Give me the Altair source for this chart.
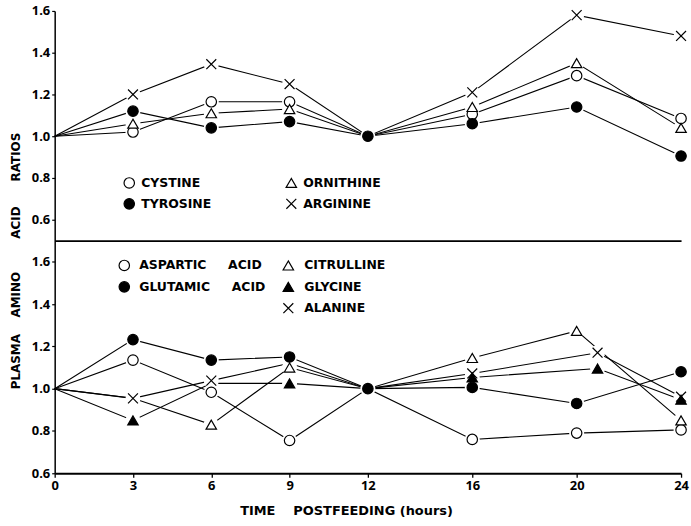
import altair as alt
import pandas as pd

# ---------------- data ----------------
HOURS = [0, 3, 6, 9, 12, 16, 20, 24]
HOURS_LATE = [0, 3, 6, 9, 12, 16, 20.8, 24]   # alanine / glycine last samples

# upper panel
CYSTINE   = [1.00, 1.02, 1.165, 1.165, 1.00, 1.105, 1.29, 1.085]
TYROSINE  = [1.00, 1.12, 1.04, 1.07, 1.00, 1.06, 1.14, 0.905]
ORNITHINE = [1.00, 1.06, 1.11, 1.13, 1.00, 1.14, 1.35, 1.04]
ARGININE  = [1.00, 1.20, 1.345, 1.25, 1.00, 1.21, 1.58, 1.48]

# lower panel
ASPARTIC   = [1.00, 1.135, 0.983, 0.755, 1.00, 0.76, 0.79, 0.805]
GLUTAMIC   = [1.00, 1.232, 1.135, 1.15, 1.00, 1.006, 0.93, 1.08]
CITRULLINE = [1.00, 0.955, 0.83, 1.10, 1.00, 1.145, 1.273, 0.85]
GLYCINE    = [1.00, 0.85, 1.025, 1.025, 1.00, 1.053, 1.095, 0.948]
ALANINE    = [1.00, 0.954, 1.038, 1.12, 1.00, 1.072, 1.17, 0.962]

NB = "\u00a0"
ASP = "ASPARTIC" + NB * 5 + "ACID"
GLU = "GLUTAMIC" + NB * 5 + "ACID"

TOP_NAMES = ["CYSTINE", "TYROSINE", "ORNITHINE", "ARGININE"]
TOP_VALUES = [CYSTINE, TYROSINE, ORNITHINE, ARGININE]
TOP_HOURS = [HOURS, HOURS, HOURS, HOURS]

BOT_NAMES = [ASP, GLU, "CITRULLINE", "GLYCINE", "ALANINE"]
BOT_VALUES = [ASPARTIC, GLUTAMIC, CITRULLINE, GLYCINE, ALANINE]
BOT_HOURS = [HOURS, HOURS, HOURS, HOURS_LATE, HOURS_LATE]

# legend slots (column, row) for each series
TOP_SLOTS = [(0, 0), (0, 1), (1, 0), (1, 1)]
BOT_SLOTS = [(0, 0), (0, 1), (1, 0), (1, 1), (1, 2)]

# points whose symbol is hidden under another symbol in the original
UNMARKED = {("CITRULLINE", 3), ("GLYCINE", 6), ("ALANINE", 9)}

Y_TICKS = [0.6, 0.8, 1.0, 1.2, 1.4, 1.6]
X_TITLE = "TIME" + NB * 4 + "POSTFEEDING (hours)"
Y_TITLE = "PLASMA" + NB * 4 + "AMINO" + NB * 8 + "ACID" + NB * 6 + "RATIOS"

# ---------------- styles / layout ----------------
X_PATH = "M-0.95,-0.95L0.95,0.95M-0.95,0.95L0.95,-0.95"
STYLE = {
    "CYSTINE": ("circle", "white"),
    "TYROSINE": ("circle", "black"),
    "ORNITHINE": ("triangle-up", "white"),
    "ARGININE": (X_PATH, "white"),
    ASP: ("circle", "white"),
    GLU: ("circle", "black"),
    "CITRULLINE": ("triangle-up", "white"),
    "GLYCINE": ("triangle-up", "black"),
    "ALANINE": (X_PATH, "white"),
}
NUM_FONT = "Open Sans"
TXT_FONT = "DejaVu Sans"
W = 630
TOP_H, BOT_H = 231, 234
MSIZE = 110
# legend geometry in panel pixels: symbol x per column, text x per column, first row y, row step
TOP_LEG = dict(sym_x=[75, 238], txt_x=[87, 250], y0=173, dy=21)
BOT_LEG = dict(sym_x=[70, 235], txt_x=[85, 251], y0=25, dy=21.5)


def is_marked(name, h):
    if h == 0:
        return False
    if h == 12:
        return STYLE[name] == ("circle", "black")
    return (name, h) not in UNMARKED


def frame(names, values, hours):
    rows = []
    for n, vals, hrs in zip(names, values, hours):
        for h, v in zip(hrs, vals):
            rows.append({"series": n, "hour": h, "value": v, "marked": is_marked(n, h)})
    return pd.DataFrame(rows)


def legend_frame(names, slots, geo):
    rows = []
    for n, (c, r) in zip(names, slots):
        rows.append({"series": n, "sx": geo["sym_x"][c], "tx": geo["txt_x"][c],
                     "ly": geo["y0"] + r * geo["dy"]})
    return pd.DataFrame(rows)


def panel(df, names, ydomain, height, leg_df, bottom):
    if bottom:
        xaxis = alt.Axis(values=HOURS, format="d", labelFlush=False,
                         labelFont=NUM_FONT, labelFontSize=13, labelFontWeight="bold",
                         labelColor="black", labelPadding=2, tickSize=4, tickColor="black",
                         tickWidth=1.3, domainColor="black", domainWidth=1.8, grid=False,
                         title=X_TITLE, titleFont=TXT_FONT, titleFontSize=13,
                         titleFontWeight="bold", titleColor="black", titlePadding=12,
                         titleX=293)
    else:
        xaxis = alt.Axis(labels=False, ticks=False, domainColor="black",
                         domainWidth=1.6, grid=False, title=None)
    yaxis = alt.Axis(values=Y_TICKS, format=".1f", labelFont=NUM_FONT, labelFontSize=13,
                     labelFontWeight="bold", labelColor="black", labelPadding=2,
                     tickSize=3, tickColor="black", tickWidth=1.2, domainColor="black",
                     domainWidth=1.5, grid=False, title=None, minExtent=30, maxExtent=30)
    x = alt.X("hour:Q", scale=alt.Scale(domain=[0, 24], nice=False), axis=xaxis)
    y = alt.Y("value:Q", scale=alt.Scale(domain=ydomain, nice=False, zero=False), axis=yaxis)
    shape = alt.Shape("series:N", scale=alt.Scale(domain=names, range=[STYLE[n][0] for n in names]), legend=None)
    fill = alt.Color("series:N", scale=alt.Scale(domain=names, range=[STYLE[n][1] for n in names]), legend=None)

    base = alt.Chart(df)
    lines = base.mark_line(color="black", strokeWidth=1.1).encode(x=x, y=y, detail="series:N")
    halos = base.transform_filter("datum.marked").mark_point(
        shape="circle", filled=True, color="white", opacity=1, size=230).encode(x=x, y=y)
    pts = base.transform_filter("datum.marked").mark_point(
        filled=True, stroke="black", strokeWidth=1.2, opacity=1, size=MSIZE
    ).encode(x=x, y=y, shape=shape, color=fill)

    leg = alt.Chart(leg_df)
    leg_sym = leg.mark_point(filled=True, stroke="black", strokeWidth=1.2, opacity=1, size=MSIZE).encode(
        x=alt.X("sx:Q", scale=None, axis=None), y=alt.Y("ly:Q", scale=None, axis=None),
        shape=shape, color=fill)
    leg_txt = leg.mark_text(align="left", baseline="middle", font=TXT_FONT, fontSize=12.5,
                            fontWeight="bold", color="black").encode(
        x=alt.X("tx:Q", scale=None, axis=None), y=alt.Y("ly:Q", scale=None, axis=None),
        text="series:N")
    return alt.layer(lines, halos, pts, leg_sym, leg_txt).properties(width=W, height=height)


top = panel(frame(TOP_NAMES, TOP_VALUES, TOP_HOURS), TOP_NAMES, [0.5, 1.6], TOP_H,
            legend_frame(TOP_NAMES, TOP_SLOTS, TOP_LEG), bottom=False)
bot = panel(frame(BOT_NAMES, BOT_VALUES, BOT_HOURS), BOT_NAMES, [0.6, 1.7], BOT_H,
            legend_frame(BOT_NAMES, BOT_SLOTS, BOT_LEG), bottom=True)

chart = alt.vconcat(top, bot, spacing=0).resolve_scale(
    color="independent", shape="independent"
).properties(
    title=alt.TitleParams(Y_TITLE, orient="left", anchor="middle", font=TXT_FONT,
                          fontSize=12, fontWeight="bold", color="black", offset=2),
    padding={"left": 9, "top": 3.5, "right": 2, "bottom": 2},
).configure_view(stroke=None)

chart.save("out.html", embed_options={"renderer": "svg", "actions": False})
